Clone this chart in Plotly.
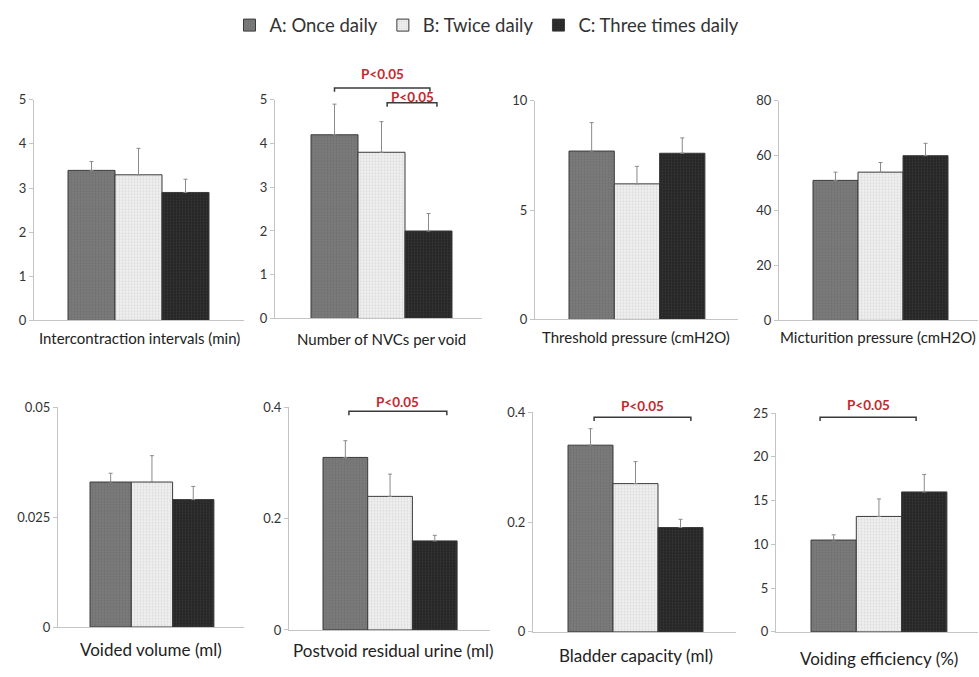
import plotly.graph_objects as go

OFF = 0
W, H = 979, 677

groups = ["A: Once daily", "B: Twice daily", "C: Three times daily"]

labels = [
    "Intercontraction intervals (min)",
    "Number of NVCs per void",
    "Threshold pressure (cmH2O)",
    "Micturition pressure (cmH2O)",
    "Voided volume (ml)",
    "Postvoid residual urine (ml)",
    "Bladder capacity (ml)",
    "Voiding efficiency (%)",
]

# mean values per panel (A, B, C)
means = [
    [3.4, 3.3, 2.9],
    [4.2, 3.8, 2.0],
    [7.7, 6.2, 7.6],
    [51, 54, 60],
    [0.033, 0.033, 0.029],
    [0.31, 0.24, 0.16],
    [0.34, 0.27, 0.19],
    [10.5, 13.2, 16.0],
]
# upper error (SE) per panel
errors = [
    [0.2, 0.6, 0.3],
    [0.7, 0.7, 0.4],
    [1.3, 0.8, 0.7],
    [3, 3.5, 4.5],
    [0.002, 0.006, 0.003],
    [0.03, 0.04, 0.01],
    [0.03, 0.04, 0.015],
    [0.6, 2.0, 2.0],
]
y_max = [5, 5, 10, 80, 0.05, 0.4, 0.4, 25]
y_dtick = [1, 1, 5, 20, 0.025, 0.2, 0.2, 5]

# significance brackets: panel, x0, x1, bracket level, text level, text
brackets = [
    (1, 0.0, 2.03, 5.27, 5.60, "P<0.05"),
    (1, 1.12, 2.18, 4.93, 5.07, "P<0.05"),
    (5, 0.08, 2.27, 0.393, 0.409, "P<0.05"),
    (6, 0.08, 2.23, 0.391, 0.411, "P<0.05"),
    (7, -0.30, 1.82, 24.55, 25.9, "P<0.05"),
]

# ---------- layout geometry (screen pixels) ----------
# axis x, bar width, first bar left, right end, y top, y bottom, label x, label y, label size
geom = [
    (34, 47.0, 68, 244, 94, 320, 139, 338, 15),
    (275, 47.0, 311, 482, 94, 318, 381, 339, 15),
    (535, 45.3, 569, 738, 95, 319, 636, 337, 15),
    (779, 45.0, 813, 978, 95, 320, 878, 337, 15),
    (58, 41.3, 90, 244, 409, 634, 151, 657, 17),
    (289, 44.7, 323, 490, 409, 637, 393, 658, 17),
    (533, 45.0, 568, 736, 414, 639, 636, 663, 17),
    (776, 45.3, 811, 978, 415, 639, 879, 666, 17),
]

def fx(px):
    return (px - OFF) / W

def fy(py):
    return 1 - (py - OFF) / H

fills = ["#7b7b7b", "#f0f0f0", "#262626"]
dots = ["#6e6e6e", "#dadada", "#363636"]

FONT = "Lato, 'Open Sans', sans-serif"
fig = go.Figure()

for p in range(8):
    ax_name = "" if p == 0 else str(p + 1)
    for g in range(3):
        fig.add_trace(go.Bar(
            x=[g], y=[means[p][g]], width=1,
            name=groups[g], legendgroup=groups[g], showlegend=(p == 0),
            marker=dict(color=fills[g],
                        line=dict(color="#3a3a3a", width=1),
                        pattern=dict(shape=".", fgcolor=dots[g], bgcolor=fills[g],
                                     size=3, solidity=0.3, fillmode="replace")),
            error_y=dict(type="data", symmetric=False, array=[errors[p][g]],
                         arrayminus=[0], color="#8a8a8a", thickness=1, width=2),
            xaxis="x" + ax_name, yaxis="y" + ax_name,
            hoverinfo="skip",
        ))

layout = dict(
    width=W, height=H, autosize=False,
    margin=dict(l=0, r=0, t=0, b=0),
    paper_bgcolor="white", plot_bgcolor="white",
    barmode="overlay", bargap=0,
    font=dict(family=FONT, color="#333333"),
    legend=dict(orientation="h", x=fx(487), xanchor="center", y=fy(18), yanchor="middle",
                font=dict(size=18.5, family=FONT, color="#333333"),
                itemwidth=30, traceorder="normal", itemclick=False),
)

annotations = []
shapes = []

def ypaper(p, v):
    g = geom[p]
    y0 = fy(g[5])
    y1 = fy(g[4])
    return y0 + (v / y_max[p]) * (y1 - y0)

for p in range(8):
    axx, bw, aleft, end, ytop, ybot, lab_x, lab_y, lab_size = geom[p]
    left = -0.5 - (aleft - axx) / bw
    right = left + (end - axx) / bw
    sfx = "" if p == 0 else str(p + 1)
    layout["xaxis" + sfx] = dict(
        domain=[fx(axx), min(fx(end), 1.0)], range=[left, right],
        showline=True, linecolor="#c4c4c4", linewidth=1,
        showticklabels=False, ticks="", showgrid=False, zeroline=False,
        anchor="y" + sfx, fixedrange=True,
    )
    layout["yaxis" + sfx] = dict(
        domain=[fy(ybot), fy(ytop)], range=[0, y_max[p]],
        dtick=y_dtick[p], tick0=0,
        showline=True, linecolor="#c4c4c4", linewidth=1,
        ticks="outside", ticklen=4, tickcolor="#c4c4c4",
        tickfont=dict(size=13, color="#333333", family=FONT),
        showgrid=False, zeroline=False, anchor="x" + sfx, fixedrange=True,
    )
    annotations.append(dict(
        text=labels[p], xref="paper", yref="paper",
        x=fx(lab_x), y=fy(lab_y),
        xanchor="center", yanchor="middle", showarrow=False,
        font=dict(size=lab_size, color="#222222", family=FONT),
    ))

tick_down = 4 / H
for (p, x0, x1, lvl, tlvl, txt) in brackets:
    sfx = "" if p == 0 else str(p + 1)
    yb = ypaper(p, lvl)
    shapes.append(dict(
        type="path", xref="x" + sfx, yref="paper",
        path=f"M {x0},{yb - tick_down} L {x0},{yb} L {x1},{yb} L {x1},{yb - tick_down}",
        line=dict(color="#3a3a3a", width=1.5),
    ))
    annotations.append(dict(
        text="<b>" + txt + "</b>", xref="x" + sfx, yref="paper",
        x=(x0 + x1) / 2, y=ypaper(p, tlvl), xanchor="center", yanchor="middle",
        showarrow=False, font=dict(size=13.5, color="#c4282e", family=FONT),
    ))

layout["annotations"] = annotations
layout["shapes"] = shapes
fig.update_layout(**layout)

fig.write_html("out.html",
               config={"displayModeBar": False, "staticPlot": True},
               post_script="document.documentElement.style.margin='0';"
                           "document.body.style.margin='0';"
                           "document.body.style.padding='0';"
                           "document.body.style.overflow='hidden';")
